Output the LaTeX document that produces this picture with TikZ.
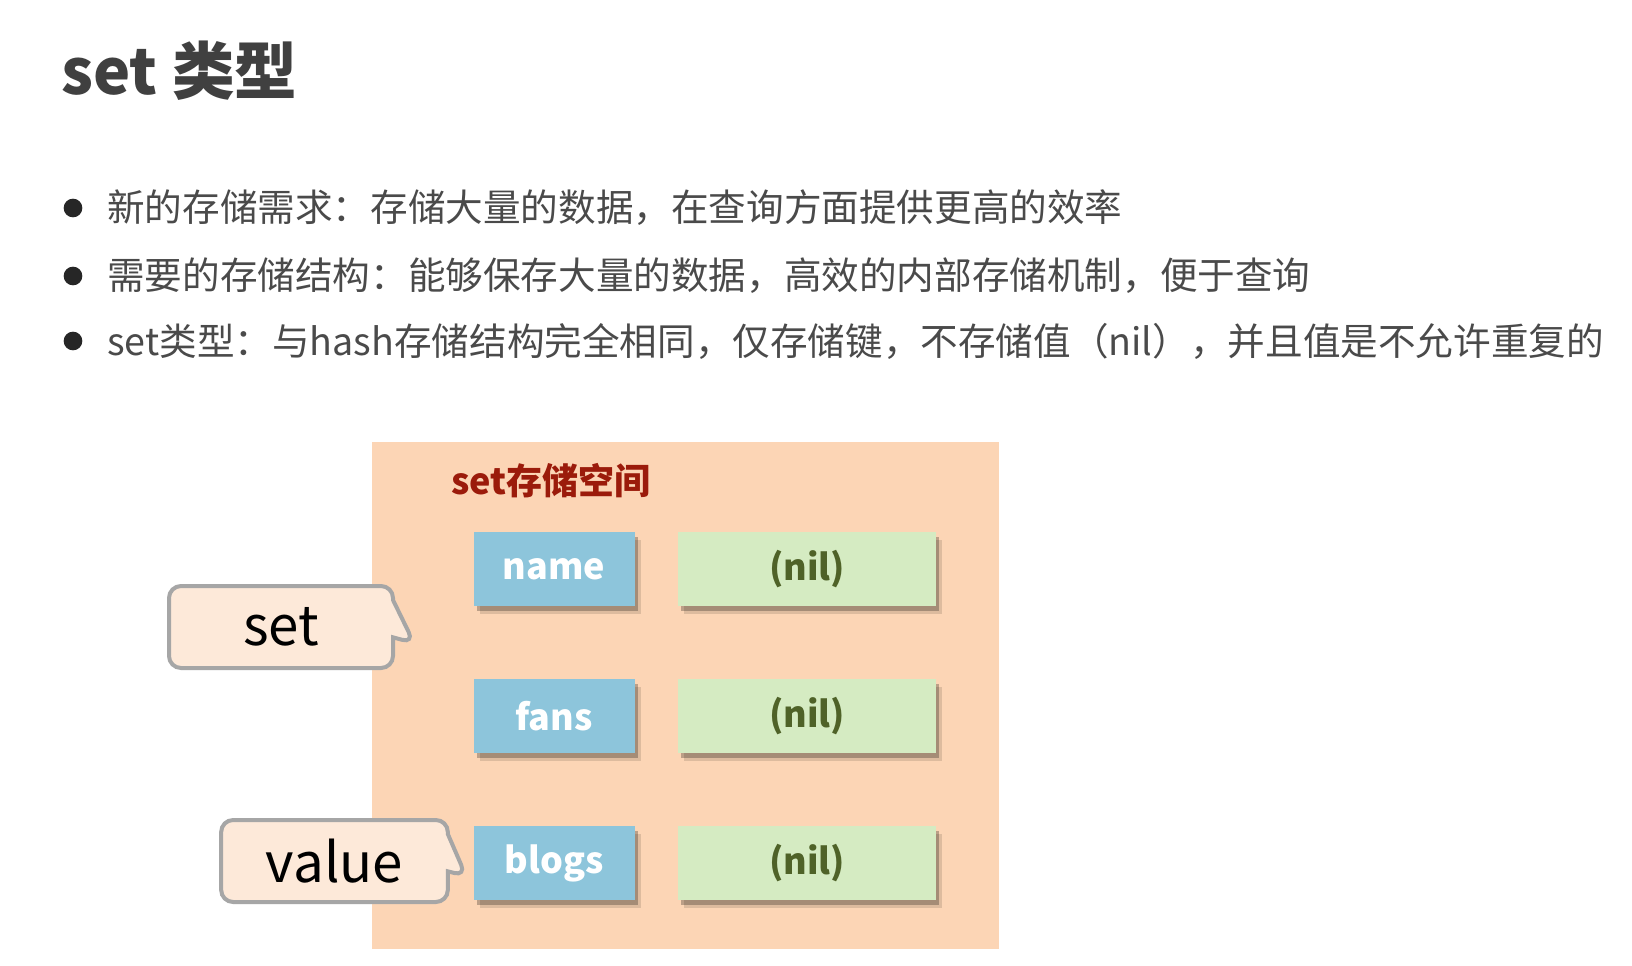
\documentclass[tikz,border=0pt]{standalone}
\usepackage{fontspec}
\setmainfont{Noto Sans CJK SC}
\usetikzlibrary{positioning,shapes.callouts,shadows}
\definecolor{headgray}{HTML}{404040}
\definecolor{bodygray}{HTML}{4A4A4A}
\definecolor{spacefill}{HTML}{FCD5B5}
\definecolor{spacered}{HTML}{9B1B0B}
\definecolor{keyblue}{HTML}{8DC5DB}
\definecolor{nilgreen}{HTML}{D5EBC2}
\definecolor{niltext}{HTML}{4F6228}
\definecolor{tagfill}{HTML}{FDE9D9}
\definecolor{tagline}{HTML}{A6A6A6}
\tikzset{bulletdot/.style={circle,fill=black!85,minimum size=14pt,inner sep=0pt},
	textline/.style={anchor=west,inner sep=0pt,text=bodygray,font=\fontsize{28.2}{32}\selectfont},
	keybox/.style={fill=keyblue,text=white,font=\fontsize{27}{30}\selectfont\bfseries,
		minimum width=120.75pt,minimum height=55.5pt,inner sep=0pt,
		drop shadow={shadow xshift=4.5pt,shadow yshift=-6pt,fill=black,opacity=.12},
		drop shadow={shadow xshift=2.5pt,shadow yshift=-3.5pt,fill=black,opacity=.25}},
	nilbox/.style={keybox,fill=nilgreen,text=niltext,minimum width=193.5pt},
	tag/.style={rectangle callout,draw=tagline,line width=3pt,fill=tagfill,
		rounded corners=9pt,callout pointer width=28pt,
		minimum width=168pt,minimum height=61.5pt,inner sep=0pt,
		font=\fontsize{41}{45}\selectfont}}

\begin{document}
\begin{tikzpicture}[x=0.75pt,y=-0.75pt]
\useasboundingbox[fill=white] (0,0) rectangle (1632,965);
% heading and the three points
\node (head) [anchor=west,inner sep=0pt,text=headgray,font=\fontsize{47}{52}\selectfont\bfseries] at (61,71) {set 类型};
\node (b1) [bulletdot] at (73,208) {};
\node (l1) [textline] at (107,208) {新的存储需求：存储大量的数据，在查询方面提供更高的效率};
\node (b2) [bulletdot] at (73,276) {};
\node (l2) [textline] at (107,276) {需要的存储结构：能够保存大量的数据，高效的内部存储机制，便于查询};
\node (b3) [bulletdot] at (73,341) {};
\node (l3) [textline] at (107,341) {set类型：与hash存储结构完全相同，仅存储键，不存储值（nil），并且值是不允许重复的};
% storage space
\node (space) [fill=spacefill,minimum width=470.25pt,minimum height=380.25pt,inner sep=0pt] at (685.5,695.5) {};
\node (spacename) [anchor=west,inner sep=0pt,text=spacered,font=\fontsize{27}{30}\selectfont\bfseries] at (451,481) {set存储空间};
\node (name) [keybox] at (554,569) {name};
\node (nil1) [nilbox,right=32.25pt of name] {(nil)};
\node (fans) [keybox] at (554,716) {fans};
\node (nil2) [nilbox,right=32.25pt of fans] {(nil)};
\node (blogs) [keybox] at (554,863) {blogs};
\node (nil3) [nilbox,right=32.25pt of blogs] {(nil)};
% callouts
\node (settag) [tag,callout absolute pointer={(414,643)}] at (281,627) {set};
\node (valuetag) [tag,minimum width=170pt,callout absolute pointer={(466,876)}] at (334.5,861) {value};
\end{tikzpicture}
\end{document}
